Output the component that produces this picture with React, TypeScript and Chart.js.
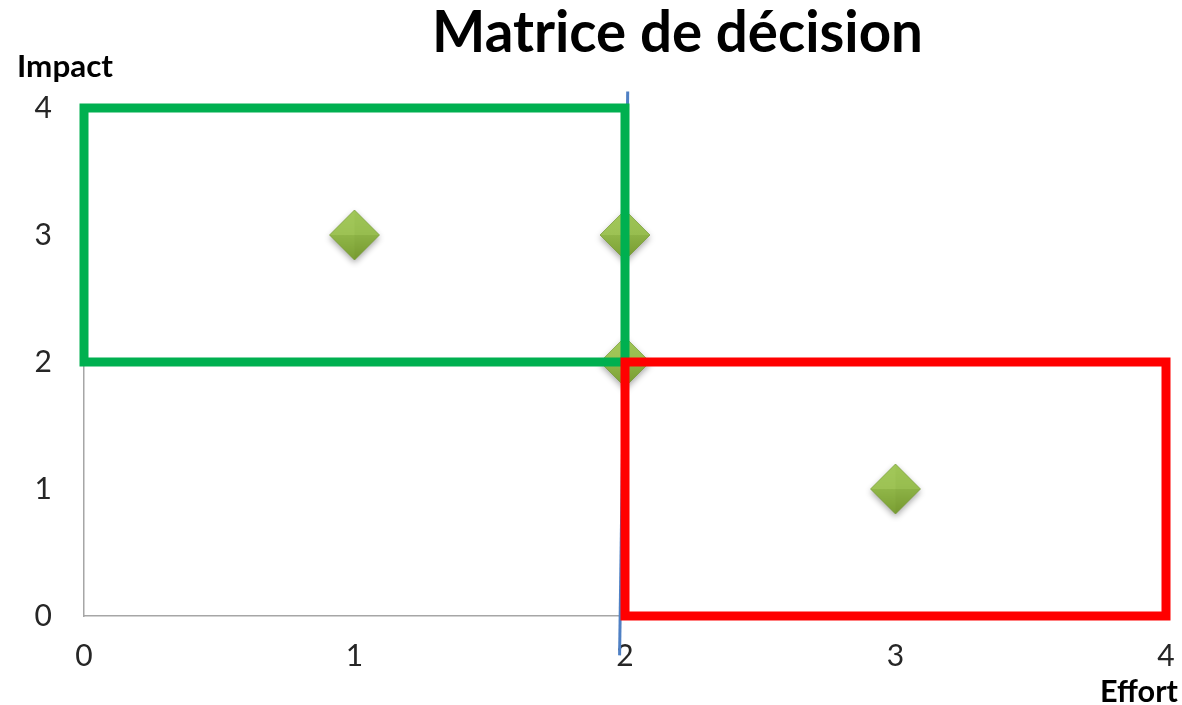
import React, { useEffect, useRef } from "react";
import { Chart, registerables } from "chart.js";

Chart.register(...registerables);

const chartTitle = "Matrice de décision";
const xAxisTitle = "Effort";
const yAxisTitle = "Impact";
const xTicks = [0, 1, 2, 3, 4];
const yTicks = [0, 1, 2, 3, 4];
const effortValues = [1, 2, 2, 3];
const impactValues = [3, 3, 2, 1];
const greenZoneX = [0, 2, 2, 0, 0];
const greenZoneY = [2, 2, 4, 4, 2];
const redZoneX = [2, 4, 4, 2, 2];
const redZoneY = [0, 0, 2, 2, 0];
const dividerX = [2.01, 1.98];
const dividerY = [4.13, -0.31];

const FONT = "Lato, 'Open Sans', sans-serif";

function toPoints(xs: number[], ys: number[]) {
  return xs.map((x, i) => ({ x, y: ys[i] }));
}

function makeDiamond(): HTMLCanvasElement {
  const s = 66;
  const c = document.createElement("canvas");
  c.width = s;
  c.height = s;
  const g = c.getContext("2d")!;
  const cx = 33, cy = 33, r = 25;
  const path = () => {
    g.beginPath();
    g.moveTo(cx, cy - r);
    g.lineTo(cx + r, cy);
    g.lineTo(cx, cy + r);
    g.lineTo(cx - r, cy);
    g.closePath();
  };
  g.save();
  g.shadowColor = "rgba(0,0,0,0.35)";
  g.shadowBlur = 6;
  g.shadowOffsetY = 3;
  path();
  g.fillStyle = "#8db445";
  g.fill();
  g.restore();
  const tri = (pts: number[][], x0: number, y0: number, x1: number, y1: number, c0: string, c1: string) => {
    g.beginPath();
    g.moveTo(pts[0][0], pts[0][1]);
    g.lineTo(pts[1][0], pts[1][1]);
    g.lineTo(pts[2][0], pts[2][1]);
    g.closePath();
    const gr = g.createLinearGradient(x0, y0, x1, y1);
    gr.addColorStop(0, c0);
    gr.addColorStop(1, c1);
    g.fillStyle = gr;
    g.fill();
  };
  tri([[cx - r, cy], [cx, cy - r], [cx, cy]], cx, cy - r, cx, cy, "#a2c85a", "#9dc254");
  tri([[cx, cy - r], [cx + r, cy], [cx, cy]], cx, cy - r, cx, cy, "#9fc556", "#97bd4f");
  tri([[cx + r, cy], [cx, cy + r], [cx, cy]], cx, cy, cx, cy + r, "#8cb245", "#76992f");
  tri([[cx - r, cy], [cx, cy + r], [cx, cy]], cx, cy, cx, cy + r, "#90b648", "#7a9e33");
  path();
  g.strokeStyle = "rgba(110,145,50,0.5)";
  g.lineWidth = 1;
  g.stroke();
  return c;
}

function drawFitted(ctx: CanvasRenderingContext2D, text: string, size: number, targetW: number, x: number, y: number, align: CanvasTextAlign) {
  ctx.font = `bold ${size}px ${FONT}`;
  const w = ctx.measureText(text).width;
  const fs = size * (targetW / w);
  ctx.font = `bold ${fs}px ${FONT}`;
  ctx.textAlign = align;
  ctx.textBaseline = "alphabetic";
  ctx.fillStyle = "#000";
  ctx.fillText(text, x, y);
}

const textPlugin = {
  id: "texts",
  afterDraw(chart: any) {
    const ctx = chart.ctx as CanvasRenderingContext2D;
    ctx.save();
    drawFitted(ctx, chartTitle, 50, 491, 677.5, 52, "center");
    drawFitted(ctx, yAxisTitle, 28, 96, 17, 77, "left");
    drawFitted(ctx, xAxisTitle, 28, 78, 1178, 702, "right");
    ctx.restore();
  },
};

const spacerAxis = (size: number, horizontal: boolean) => ({
  type: "linear",
  display: true,
  min: 0,
  max: 4,
  position: horizontal ? "top" : "right",
  grid: { display: false, drawTicks: false },
  border: { display: false },
  ticks: { display: false, padding: 0 },
  afterFit: (s: any) => {
    if (horizontal) s.height = size;
    else s.width = size;
    s.paddingLeft = 0;
    s.paddingRight = 0;
    s.paddingTop = 0;
    s.paddingBottom = 0;
  },
});

export default function App() {
  const ref = useRef<HTMLCanvasElement>(null);
  useEffect(() => {
    if (!ref.current) return;
    const diamond = makeDiamond();
    const chart = new Chart(ref.current, {
      type: "scatter",
      data: {
        datasets: [
          {
            label: "Zone rouge",
            data: toPoints(redZoneX, redZoneY),
            showLine: true,
            borderColor: "#FF0000",
            borderWidth: 9,
            borderJoinStyle: "miter",
            borderCapStyle: "square",
            pointRadius: 0,
            fill: false,
            clip: false,
          } as any,
          {
            label: "Zone verte",
            data: toPoints(greenZoneX, greenZoneY),
            showLine: true,
            borderColor: "#00B050",
            borderWidth: 9,
            borderJoinStyle: "miter",
            borderCapStyle: "square",
            pointRadius: 0,
            fill: false,
            clip: false,
          } as any,
          {
            label: "Séparation",
            data: toPoints(dividerX, dividerY),
            showLine: true,
            borderColor: "#4f80c4",
            borderWidth: 3,
            pointRadius: 0,
            fill: false,
            clip: false,
          } as any,
          {
            label: "Décisions",
            data: toPoints(effortValues, impactValues),
            pointStyle: diamond,
            pointRadius: 25,
            showLine: false,
            clip: false,
          } as any,
        ],
      },
      options: {
        animation: false,
        responsive: true,
        maintainAspectRatio: false,
        events: [],
        layout: { padding: 0, autoPadding: false },
        plugins: {
          legend: { display: false },
          tooltip: { enabled: false },
          title: { display: false },
        },
        scales: {
          x: {
            type: "linear",
            position: "bottom",
            min: 0,
            max: 4,
            afterBuildTicks: (s: any) => {
              s.ticks = xTicks.map((v) => ({ value: v }));
            },
            afterFit: (s: any) => {
              s.height = 89;
              s.paddingLeft = 0;
              s.paddingRight = 0;
            },
            grid: { display: false, drawTicks: false },
            border: { display: true, color: "#a6a6a6", width: 1.5 },
            ticks: {
              padding: 22,
              color: "#262626",
              font: { family: FONT, size: 30 },
              maxRotation: 0,
            },
          },
          y: {
            type: "linear",
            position: "left",
            min: 0,
            max: 4,
            afterBuildTicks: (s: any) => {
              s.ticks = yTicks.map((v) => ({ value: v }));
            },
            afterFit: (s: any) => {
              s.width = 84;
              s.paddingTop = 0;
              s.paddingBottom = 0;
            },
            grid: { display: false, drawTicks: false },
            border: { display: true, color: "#a6a6a6", width: 1.5 },
            ticks: {
              padding: 32,
              color: "#262626",
              font: { family: FONT, size: 30 },
            },
          },
          xTopSpace: spacerAxis(108, true),
          yRightSpace: spacerAxis(16, false),
        },
      } as any,
      plugins: [textPlugin],
    });
    return () => chart.destroy();
  }, []);
  return (
    <div style={{ position: "fixed", left: 0, top: 0, width: 1182, height: 705, background: "#fff" }}>
      <canvas ref={ref} />
    </div>
  );
}
